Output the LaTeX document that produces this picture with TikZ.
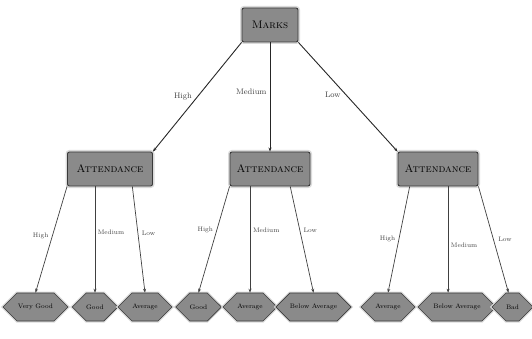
\documentclass[tikz,border=0pt]{standalone}
\usetikzlibrary{shapes.symbols,calc,arrows.meta}
\definecolor{boxfill}{HTML}{8A8A8A}
\definecolor{boxline}{HTML}{3A3A3A}
\definecolor{halo}{HTML}{DADADA}
\begin{document}
\begin{tikzpicture}[x=1pt,y=-1pt,
  decision/.style={rectangle, rounded corners=2pt, fill=boxfill, draw=boxline, line width=0.9pt,
    preaction={draw=halo, line width=4pt},
    minimum height=34pt, inner sep=0pt, font=\fontsize{11}{12}\selectfont\scshape},
  leaf/.style={signal, signal to=west and east, fill=boxfill, draw=boxline, line width=0.6pt,
    preaction={draw=halo, line width=3pt},
    minimum height=28pt, inner sep=0pt, font=\fontsize{6.5}{7}\selectfont},
  branch/.style={-{Stealth[length=4pt,width=3pt]}, draw=black!85, line width=0.9pt},
  subbranch/.style={-{Stealth[length=4pt,width=3pt]}, draw=black!75, line width=0.7pt},
  lab/.style={font=\fontsize{8}{9}\selectfont, text=black!75, inner sep=2pt},
  sublab/.style={font=\fontsize{6.5}{7}\selectfont, text=black!75, inner sep=1.5pt}]
\useasboundingbox (0,0) rectangle (532,339);

% root and attribute tests
\node[decision, minimum width=56pt] (marks) at (270,25) {Marks};
\node[decision, minimum width=85pt] (a1) at (110,169) {Attendance};
\node[decision, minimum width=80pt] (a2) at (270,169) {Attendance};
\node[decision, minimum width=80pt] (a3) at (438,169) {Attendance};

% outcomes
\node[leaf, minimum width=65pt] (vg1) at (35.5,307) {Very Good};
\node[leaf, minimum width=45pt] (g1) at (95,307) {Good};
\node[leaf, minimum width=54pt] (av1) at (145,307) {Average};
\node[leaf, minimum width=43pt] (g2) at (198.5,307) {Good};
\node[leaf, minimum width=54pt] (av2) at (250,307) {Average};
\node[leaf, minimum width=67pt] (ba2) at (313.5,307) {Below Average};
\node[leaf, minimum width=54pt] (av3) at (388,307) {Average};
\node[leaf, minimum width=78pt] (ba3) at (457,307) {Below Average};
\node[leaf, minimum width=31pt] (bad3) at (512.5,307) {Bad};

% branch start and end points
\coordinate (a1low) at ($(a1.south west)!0.76!(a1.south east)$);
\coordinate (a2low) at ($(a2.south west)!0.75!(a2.south east)$);
\coordinate (a3high) at ($(a3.south west)!0.15!(a3.south east)$);
\coordinate (a3med) at ($(a3.south west)!0.625!(a3.south east)$);
\coordinate (ba3top) at (a3med |- ba3.north);
\coordinate (badtop) at ($(bad3.north)+(-4,0)$);

% first split
\draw[branch] (marks.south west) -- node[lab, pos=0.5, left=3pt] {High} (a1.north east);
\draw[branch] (marks.south) -- node[lab, pos=0.45, left=1pt] {Medium} (a2.north);
\draw[branch] (marks.south east) -- node[lab, pos=0.48, left=3pt] {Low} (a3.north west);

% left subtree
\draw[subbranch] (a1.south west) -- node[sublab, pos=0.47, left=2pt] {High} (vg1.north);
\draw[subbranch, line width=0.5pt] (g1.north |- a1.south) -- node[sublab, pos=0.43, right=1pt] {Medium} (g1.north);
\draw[subbranch] (a1low) -- node[sublab, pos=0.44, right=2pt] {Low} (av1.north);

% middle subtree
\draw[subbranch] (a2.south west) -- node[sublab, pos=0.41, left=2pt] {High} (g2.north);
\draw[subbranch, line width=1pt] (av2.north |- a2.south) -- node[sublab, pos=0.41, right=1pt] {Medium} (av2.north);
\draw[subbranch] (a2low) -- node[sublab, pos=0.41, right=2pt] {Low} (ba2.north);

% right subtree
\draw[subbranch] (a3high) -- node[sublab, pos=0.49, left=2pt] {High} (av3.north);
\draw[subbranch, line width=0.5pt] (a3med) -- node[sublab, pos=0.55, right=1pt] {Medium} (ba3top);
\draw[subbranch] (a3.south east) -- node[sublab, pos=0.5, right=3pt] {Low} (badtop);
\end{tikzpicture}
\end{document}
